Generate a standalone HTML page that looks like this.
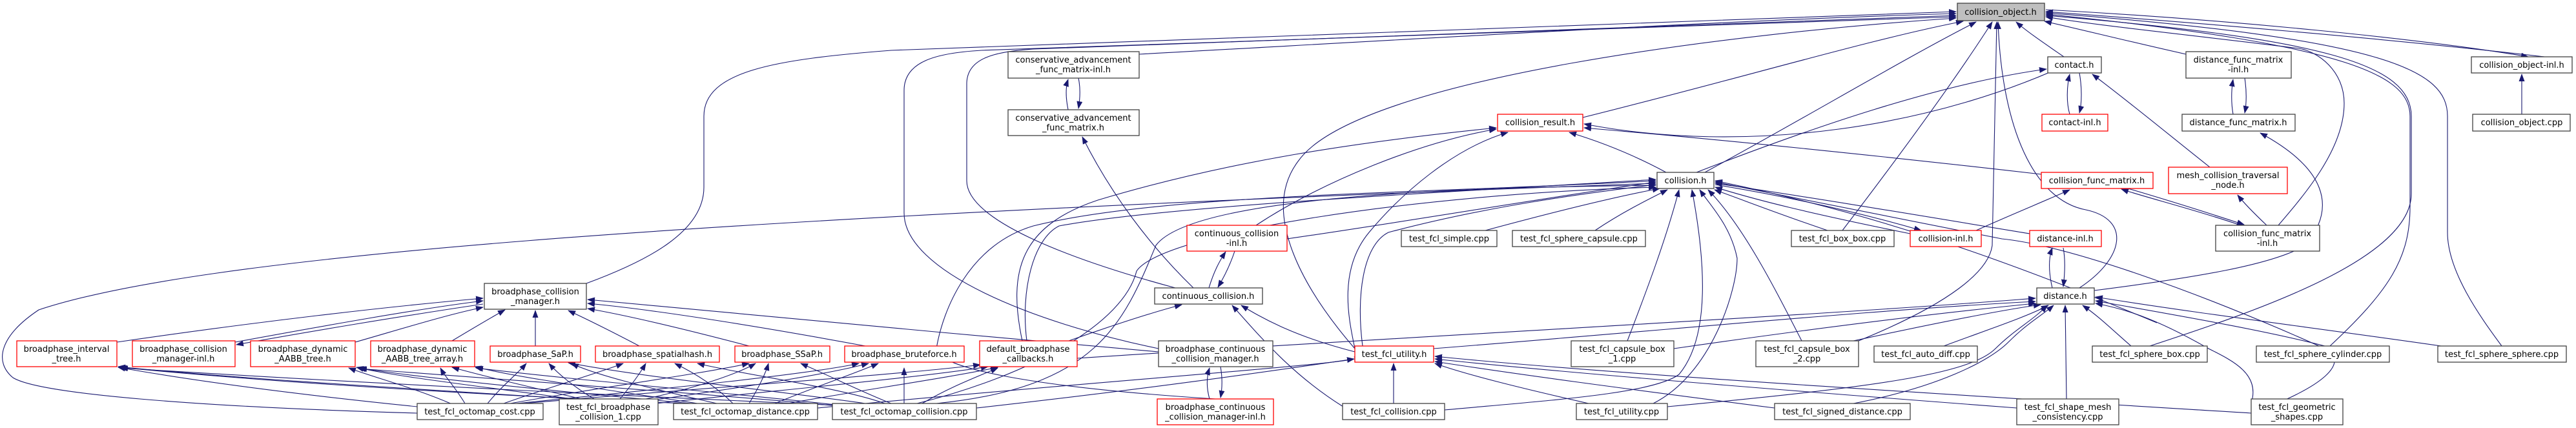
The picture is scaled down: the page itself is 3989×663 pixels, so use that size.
<!DOCTYPE html>
<html><head><meta charset="utf-8"><style>
html,body{margin:0;padding:0;background:#fff;}
svg{display:block;}
text{font-family:"DejaVu Sans","Liberation Sans",sans-serif;font-size:13px;fill:#000;text-anchor:middle;}
.e{fill:none;stroke:#191970;stroke-width:1.1;}
.n{fill:#fff;stroke:#404040;stroke-width:1.3;}
.r{fill:#fff;stroke:#ff0000;stroke-width:1.3;}
</style></head><body>
<svg width="3989" height="663" viewBox="0 0 3989 663" xmlns="http://www.w3.org/2000/svg">
<defs><marker id="a" markerUnits="userSpaceOnUse" markerWidth="12" markerHeight="9" refX="11" refY="4.5" orient="auto"><path d="M0,0 L12,4.5 L0,9 z" fill="#191970"/></marker></defs>
<g class="e" marker-end="url(#a)">
<!-- to collision_object.h -->
<path d="M908,439 C1000,405 1090,360 1090,290 L1090,180 C1090,110 1200,92 1380,78 L3029,18"/>
<path d="M1764,84 C2200,60 2700,30 3029,21"/>
<path d="M1820,446 C1650,400 1497,340 1497,280 L1497,130 C1497,90 1540,80 1600,76 L3029,24"/>
<path d="M1794,540 C1600,500 1400,420 1400,330 L1400,140 C1400,95 1450,82 1520,78 L3029,26"/>
<path d="M2098,540 C2020,450 1950,330 2010,250 C2100,120 2700,50 3029,28"/>
<path d="M2451,182 C2700,120 2900,60 3040,33"/>
<path d="M2640,267 C2800,180 2950,90 3060,34"/>
<path d="M2853,357 C2950,230 3030,120 3085,34"/>
<path d="M2878,528 C3020,470 3080,420 3085,380 L3092,34"/>
<path d="M3220,446 C3290,400 3300,340 3230,325 C3150,310 3100,200 3094,34"/>
<path d="M3196,88 C3170,70 3140,50 3122,34"/>
<path d="M3385,84 C3300,65 3220,45 3166,33"/>
<path d="M3528,349 C3570,300 3630,230 3630,160 C3630,110 3590,80 3560,75 C3400,55 3250,40 3168,26"/>
<path d="M3329,536 C3500,480 3734,400 3734,300 L3734,180 C3734,100 3600,60 3168,24"/>
<path d="M3608,536 C3700,450 3732,400 3732,320 L3732,180 C3732,120 3650,70 3168,22"/>
<path d="M3874,536 C3840,490 3790,420 3790,360 L3790,180 C3790,110 3700,60 3168,20"/>
<path d="M3940,88 C3700,60 3400,35 3168,18"/>
<path d="M3168,15 C3450,30 3750,60 3915,88"/>
<!-- broadphase_collision_manager.h -->
<path d="M181,530 C400,498 600,475 748,462"/>
<path d="M364,530 C500,505 650,478 748,466"/>
<path d="M748,471 C620,490 470,515 366,534"/>
<path d="M550,530 C620,510 690,488 748,476"/>
<path d="M700,528 C730,510 760,492 782,480"/>
<path d="M829,536 L829,481"/>
<path d="M990,536 C950,515 910,495 880,481"/>
<path d="M1160,536 C1080,515 980,490 910,478"/>
<path d="M1340,536 C1200,510 1020,480 910,470"/>
<path d="M1794,545 C1500,520 1200,490 910,464"/>
<!-- octomap_cost -->
<path d="M646,640 C300,630 60,610 20,585 C-10,560 0,520 60,480 C300,400 1000,340 2564,284"/>
<path d="M646,630 C450,610 300,590 183,569"/>
<path d="M700,626 C640,600 580,585 540,570"/>
<path d="M720,625 C705,600 690,585 682,570"/>
<path d="M755,625 C775,600 800,580 815,563"/>
<path d="M780,625 C850,600 920,580 965,563"/>
<path d="M790,625 C930,600 1080,580 1160,563"/>
<path d="M800,625 C1050,600 1250,580 1330,563"/>
<path d="M810,625 C1100,600 1400,580 1518,565"/>
<!-- broadphase_collision_1 -->
<path d="M890,618 C600,600 350,585 183,568"/>
<path d="M900,620 C760,600 620,585 552,569"/>
<path d="M910,620 C820,600 740,580 700,569"/>
<path d="M920,618 C890,600 865,580 850,563"/>
<path d="M960,618 C975,600 990,580 1000,563"/>
<path d="M1000,618 C1080,600 1140,580 1170,563"/>
<path d="M1010,620 C1150,600 1280,580 1345,563"/>
<path d="M1015,625 C1250,600 1420,585 1530,568"/>
<!-- octomap_distance -->
<path d="M1060,625 C700,610 400,590 185,569"/>
<path d="M1070,625 C850,605 650,585 555,570"/>
<path d="M1080,625 C950,605 800,585 735,568"/>
<path d="M1110,625 C1000,600 920,580 885,563"/>
<path d="M1135,625 C1110,600 1080,580 1045,563"/>
<path d="M1160,625 C1175,600 1185,580 1190,563"/>
<path d="M1200,625 C1260,600 1320,580 1360,563"/>
<path d="M1220,625 C1330,605 1470,585 1545,569"/>
<path d="M1266,632 C1700,590 2150,560 2097,553"/>
<!-- octomap_collision -->
<path d="M1300,628 C900,610 500,590 187,570"/>
<path d="M1310,630 C1100,610 800,590 557,571"/>
<path d="M1320,630 C1150,610 900,590 737,570"/>
<path d="M1340,625 C1200,605 1000,585 880,562"/>
<path d="M1370,625 C1300,600 1150,580 1080,563"/>
<path d="M1380,625 C1330,605 1280,580 1240,563"/>
<path d="M1400,625 L1400,570"/>
<path d="M1428,625 C1470,600 1510,585 1545,570"/>
<path d="M1512,632 C1800,600 2000,570 2097,556"/>
<path d="M1450,625 C1700,600 1740,500 1790,380 C1850,300 2300,290 2564,287"/>
<path d="M1420,625 C1600,580 1740,500 1760,420 C1800,360 2200,300 2564,290"/>
<!-- conservative advancement -->
<path d="M1654,170 C1650,150 1650,135 1654,123"/>
<path d="M1670,121 C1673,135 1673,150 1670,168"/>
<path d="M1848,446 C1780,380 1720,300 1676,212"/>
<!-- continuous collision -->
<path d="M1872,446 C1880,420 1888,405 1898,390"/>
<path d="M1912,389 C1905,410 1895,430 1886,445"/>
<path d="M1993,370 C2200,340 2400,305 2564,282"/>
<path d="M1945,349 C2050,280 2200,220 2317,200"/>
<path d="M1655,528 C1720,505 1780,485 1830,472"/>
<path d="M2080,630 C2000,580 1950,520 1908,473"/>
<path d="M2098,545 C2000,520 1950,490 1922,473"/>
<path d="M1882,618 C1600,600 1450,570 1450,540 C1460,480 1500,380 1600,350 C1800,300 2200,300 2564,280"/>
<!-- broadphase continuous -->
<path d="M1873,618 C1868,600 1868,585 1873,570"/>
<path d="M1890,568 C1893,585 1893,600 1890,616"/>
<!-- default broadphase callbacks -->
<path d="M1583,528 C1560,420 1580,350 1700,310 C1900,250 2100,220 2317,198"/>
<path d="M1590,528 C1580,450 1600,370 1640,350 C1800,320 2200,300 2564,278"/>
<path d="M1668,555 C2200,520 2800,490 3152,462"/>
<!-- collision_result -->
<path d="M2580,267 C2530,240 2480,220 2430,205"/>
<path d="M3161,270 C2900,240 2650,215 2453,198"/>
<path d="M2098,540 C2090,500 2070,420 2120,360 C2170,300 2250,230 2335,205"/>
<path d="M2110,536 C2100,460 2110,380 2150,360 C2300,320 2450,300 2564,286"/>
<!-- collision.h -->
<path d="M2627,267 C2800,200 3000,130 3169,107"/>
<path d="M2300,357 C2400,330 2500,305 2570,292"/>
<path d="M2470,357 C2510,330 2550,310 2582,294"/>
<path d="M2830,357 C2750,330 2700,310 2655,294"/>
<path d="M2520,528 C2550,450 2580,370 2600,294"/>
<path d="M2790,528 C2750,450 2700,350 2645,294"/>
<path d="M2237,635 C2400,620 2560,610 2600,580 C2650,520 2640,400 2620,294"/>
<path d="M2560,625 C2650,580 2690,450 2690,400 C2680,350 2650,320 2632,294"/>
<path d="M2958,362 C2800,330 2720,310 2656,290"/>
<path d="M2656,286 C2800,310 2900,335 2975,357"/>
<path d="M3143,362 C2950,330 2800,305 2656,284"/>
<path d="M3486,640 C3600,600 3640,560 3600,540 C3400,450 3200,380 3100,370 C2900,330 2750,300 2656,282"/>
<path d="M3340,500 C3100,400 2900,330 2656,280"/>
<!-- test_fcl_utility.h -->
<path d="M2158,625 L2158,563"/>
<path d="M2460,625 C2350,600 2270,580 2222,563"/>
<path d="M2748,632 C2500,600 2350,580 2222,560"/>
<path d="M3123,632 C2700,600 2400,575 2222,556"/>
<path d="M3486,640 C3000,610 2500,580 2222,552"/>
<path d="M2220,540 C2600,510 2900,480 3152,467"/>
<path d="M2592,540 C2800,510 3000,485 3152,470"/>
<!-- distance.h -->
<path d="M3178,446 C3172,420 3172,400 3178,384"/>
<path d="M3195,384 C3198,400 3198,420 3195,444"/>
<path d="M3243,450 C3400,430 3520,410 3570,380 C3620,320 3600,260 3500,206"/>
<path d="M2870,528 C3000,500 3100,480 3160,472"/>
<path d="M3010,536 C3080,510 3140,490 3172,473"/>
<path d="M3300,536 C3270,510 3250,490 3225,473"/>
<path d="M3200,618 L3198,473"/>
<path d="M2870,625 C3000,600 3080,560 3110,530 C3140,500 3160,490 3180,473"/>
<path d="M2582,630 C2900,600 3050,580 3090,540 C3120,510 3150,495 3170,473"/>
<path d="M3600,536 C3500,510 3350,485 3245,466"/>
<path d="M3780,536 C3600,510 3400,485 3245,460"/>
<path d="M3486,625 C3500,580 3460,560 3420,540 C3350,500 3300,480 3245,470"/>
<!-- collision_func_matrix -->
<path d="M3060,357 C3120,330 3170,310 3205,294"/>
<path d="M3470,349 C3400,325 3320,305 3285,293"/>
<path d="M3285,289 C3340,305 3420,330 3475,348"/>
<path d="M3510,349 C3490,330 3475,315 3465,302"/>
<path d="M3422,259 C3360,210 3300,160 3240,115"/>
<path d="M3226,88 C3000,200 2700,240 2453,192"/>
<!-- contact -->
<path d="M3205,177 C3200,160 3200,135 3205,115"/>
<path d="M3220,113 C3224,135 3224,160 3220,175"/>
<!-- distance_func_matrix -->
<path d="M3458,177 C3455,160 3455,140 3458,123"/>
<path d="M3476,121 C3479,140 3479,160 3476,175"/>
<!-- collision_object.cpp -> inl -->
<path d="M3905,177 L3905,115"/>
</g>
<!-- nodes -->
<rect class="n" x="3031" y="5" width="135" height="27" style="fill:#bfbfbf"/><text x="3098" y="23">collision_object.h</text>
<rect class="n" x="750" y="439" width="158" height="40"/><text x="829" y="456">broadphase_collision</text><text x="829" y="471">_manager.h</text>
<rect class="r" x="26" y="528" width="155" height="40"/><text x="103" y="545">broadphase_interval</text><text x="103" y="560">_tree.h</text>
<rect class="r" x="205" y="528" width="159" height="40"/><text x="284" y="545">broadphase_collision</text><text x="284" y="560">_manager-inl.h</text>
<rect class="r" x="388" y="528" width="162" height="40"/><text x="469" y="545">broadphase_dynamic</text><text x="469" y="560">_AABB_tree.h</text>
<rect class="r" x="574" y="528" width="161" height="40"/><text x="654" y="545">broadphase_dynamic</text><text x="654" y="560">_AABB_tree_array.h</text>
<rect class="r" x="759" y="536" width="140" height="25"/><text x="829" y="553">broadphase_SaP.h</text>
<rect class="r" x="922" y="536" width="192" height="25"/><text x="1018" y="553">broadphase_spatialhash.h</text>
<rect class="r" x="1138" y="536" width="147" height="25"/><text x="1211" y="553">broadphase_SSaP.h</text>
<rect class="r" x="1308" y="536" width="185" height="25"/><text x="1400" y="553">broadphase_bruteforce.h</text>
<rect class="r" x="1517" y="528" width="151" height="40"/><text x="1592" y="545">default_broadphase</text><text x="1592" y="560">_callbacks.h</text>
<rect class="n" x="1794" y="528" width="177" height="40"/><text x="1882" y="545">broadphase_continuous</text><text x="1882" y="560">_collision_manager.h</text>
<rect class="r" x="1792" y="618" width="180" height="40"/><text x="1882" y="635">broadphase_continuous</text><text x="1882" y="650">_collision_manager-inl.h</text>
<rect class="n" x="1561" y="80" width="203" height="41"/><text x="1662" y="97">conservative_advancement</text><text x="1662" y="112">_func_matrix-inl.h</text>
<rect class="n" x="1561" y="170" width="203" height="40"/><text x="1662" y="187">conservative_advancement</text><text x="1662" y="202">_func_matrix.h</text>
<rect class="r" x="1838" y="349" width="155" height="40"/><text x="1915" y="366">continuous_collision</text><text x="1915" y="381">-inl.h</text>
<rect class="n" x="1788" y="446" width="167" height="25"/><text x="1871" y="463">continuous_collision.h</text>
<rect class="n" x="646" y="625" width="195" height="25"/><text x="743" y="642">test_fcl_octomap_cost.cpp</text>
<rect class="n" x="866" y="618" width="153" height="40"/><text x="942" y="635">test_fcl_broadphase</text><text x="942" y="650">_collision_1.cpp</text>
<rect class="n" x="1043" y="625" width="223" height="25"/><text x="1154" y="642">test_fcl_octomap_distance.cpp</text>
<rect class="n" x="1289" y="625" width="223" height="25"/><text x="1400" y="642">test_fcl_octomap_collision.cpp</text>
<rect class="r" x="2319" y="177" width="132" height="26"/><text x="2385" y="194">collision_result.h</text>
<rect class="n" x="2566" y="267" width="88" height="25"/><text x="2610" y="284">collision.h</text>
<rect class="n" x="2170" y="357" width="148" height="25"/><text x="2244" y="374">test_fcl_simple.cpp</text>
<rect class="n" x="2342" y="357" width="206" height="25"/><text x="2445" y="374">test_fcl_sphere_capsule.cpp</text>
<rect class="n" x="2774" y="357" width="159" height="25"/><text x="2853" y="374">test_fcl_box_box.cpp</text>
<rect class="r" x="2098" y="536" width="122" height="25"/><text x="2159" y="553">test_fcl_utility.h</text>
<rect class="n" x="2433" y="528" width="159" height="40"/><text x="2512" y="545">test_fcl_capsule_box</text><text x="2512" y="560">_1.cpp</text>
<rect class="n" x="2719" y="528" width="159" height="40"/><text x="2798" y="545">test_fcl_capsule_box</text><text x="2798" y="560">_2.cpp</text>
<rect class="n" x="2079" y="625" width="158" height="25"/><text x="2158" y="642">test_fcl_collision.cpp</text>
<rect class="n" x="2441" y="625" width="141" height="25"/><text x="2511" y="642">test_fcl_utility.cpp</text>
<rect class="n" x="2748" y="625" width="210" height="25"/><text x="2853" y="642">test_fcl_signed_distance.cpp</text>
<rect class="n" x="3171" y="88" width="83" height="25"/><text x="3212" y="105">contact.h</text>
<rect class="r" x="3162" y="177" width="102" height="26"/><text x="3213" y="194">contact-inl.h</text>
<rect class="n" x="3385" y="80" width="163" height="41"/><text x="3466" y="97">distance_func_matrix</text><text x="3466" y="112">-inl.h</text>
<rect class="n" x="3379" y="177" width="175" height="26"/><text x="3466" y="194">distance_func_matrix.h</text>
<rect class="r" x="3161" y="267" width="173" height="25"/><text x="3247" y="284">collision_func_matrix.h</text>
<rect class="r" x="3358" y="259" width="184" height="41"/><text x="3450" y="276">mesh_collision_traversal</text><text x="3450" y="291">_node.h</text>
<rect class="r" x="2958" y="357" width="110" height="25"/><text x="3013" y="374">collision-inl.h</text>
<rect class="r" x="3143" y="357" width="111" height="25"/><text x="3198" y="374">distance-inl.h</text>
<rect class="n" x="3431" y="349" width="161" height="40"/><text x="3511" y="366">collision_func_matrix</text><text x="3511" y="381">-inl.h</text>
<rect class="n" x="3154" y="446" width="89" height="25"/><text x="3198" y="463">distance.h</text>
<rect class="n" x="2902" y="536" width="160" height="25"/><text x="2982" y="553">test_fcl_auto_diff.cpp</text>
<rect class="n" x="3240" y="536" width="178" height="25"/><text x="3329" y="553">test_fcl_sphere_box.cpp</text>
<rect class="n" x="3123" y="618" width="158" height="40"/><text x="3202" y="635">test_fcl_shape_mesh</text><text x="3202" y="650">_consistency.cpp</text>
<rect class="n" x="3827" y="88" width="156" height="25"/><text x="3905" y="105">collision_object-inl.h</text>
<rect class="n" x="3829" y="177" width="151" height="26"/><text x="3905" y="194">collision_object.cpp</text>
<rect class="n" x="3494" y="536" width="206" height="25"/><text x="3597" y="553">test_fcl_sphere_cylinder.cpp</text>
<rect class="n" x="3775" y="536" width="199" height="25"/><text x="3874" y="553">test_fcl_sphere_sphere.cpp</text>
<rect class="n" x="3486" y="618" width="142" height="40"/><text x="3557" y="635">test_fcl_geometric</text><text x="3557" y="650">_shapes.cpp</text>
</svg>
</body></html>
